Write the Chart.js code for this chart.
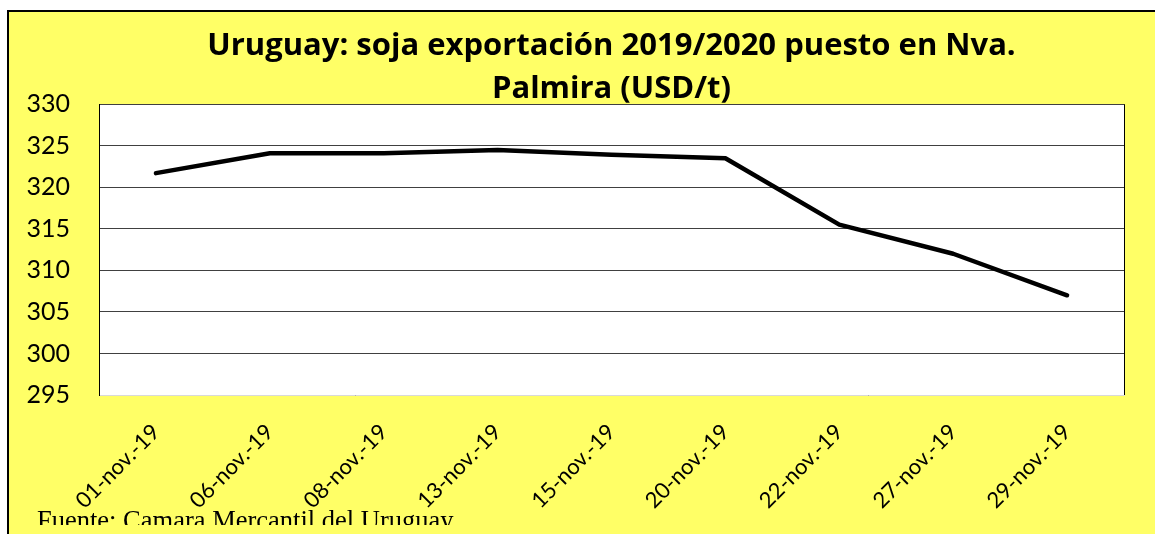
<!DOCTYPE html>
<html>
<head>
<meta charset="utf-8">
<script src="https://cdn.jsdelivr.net/npm/chart.js@4.4.1/dist/chart.umd.min.js"></script>
<style>
  html, body { margin: 0; padding: 0; background: #fff; }
  #wrap { width: 1155px; height: 534px; position: relative; }
</style>
</head>
<body>
<div id="wrap"><canvas id="sojaChart" width="1155" height="534"></canvas></div>
<script>
const fechas = ['01-nov.-19', '06-nov.-19', '08-nov.-19', '13-nov.-19', '15-nov.-19',
  '20-nov.-19', '22-nov.-19', '27-nov.-19', '29-nov.-19'];
const precios = [321.7, 324.1, 324.1, 324.5, 323.9, 323.5, 315.5, 312.0, 307.0];
const titulo = ['Uruguay: soja exportación 2019/2020 puesto en Nva.', 'Palmira (USD/t)'];
const fuente = 'Fuente: Camara Mercantil del Uruguay';

const YELLOW = '#FFFF66';

// fondo amarillo con marco, borde derecho del area y nota de fuente
const marco = {
  id: 'marco',
  beforeDraw(chart) {
    const c = chart.ctx;
    c.save();
    c.fillStyle = '#fff';
    c.fillRect(0, 0, chart.width, chart.height);
    c.fillStyle = YELLOW;
    c.fillRect(8, 11, chart.width - 8, chart.height - 11);
    c.strokeStyle = '#000';
    c.lineWidth = 2;
    c.beginPath();
    c.moveTo(8, chart.height);
    c.lineTo(8, 11);
    c.lineTo(chart.width, 11);
    c.stroke();
    const a = chart.chartArea;
    c.fillStyle = '#fff';
    c.fillRect(a.left, a.top, a.right - a.left, a.bottom - a.top);
    c.restore();
  },
  afterDraw(chart) {
    const c = chart.ctx;
    const a = chart.chartArea;
    c.save();
    c.strokeStyle = '#000';
    c.lineWidth = 1;
    c.beginPath();
    c.moveTo(a.right + 0.5, a.top);
    c.lineTo(a.right + 0.5, a.bottom);
    c.stroke();
    // texto recortado como en el original
    c.beginPath();
    c.rect(0, 0, chart.width, 525);
    c.clip();
    c.fillStyle = '#000';
    c.font = '26.5px "Liberation Serif", "Times New Roman", serif';
    c.textBaseline = 'alphabetic';
    c.fillText(fuente, 37, 529);
    c.restore();
  }
};

const ctx = document.getElementById('sojaChart').getContext('2d');

new Chart(ctx, {
  type: 'line',
  data: {
    labels: fechas,
    datasets: [{
      label: 'USD/t',
      data: precios,
      borderColor: '#000',
      borderWidth: 4.5,
      borderCapStyle: 'round',
      borderJoinStyle: 'round',
      pointRadius: 0,
      tension: 0,
      fill: false
    }]
  },
  options: {
    responsive: false,
    animation: false,
    layout: { padding: { left: 20, right: 31, top: 11, bottom: 0 } },
    scales: {
      x: {
        offset: true,
        grid: { display: false, drawTicks: false, offset: true },
        border: { display: true, color: '#d9d9d9', width: 1 },
        ticks: {
          color: '#000',
          font: { family: 'Lato', size: 22 },
          minRotation: 45,
          maxRotation: 45,
          autoSkip: false,
          padding: 24
        },
        afterFit(scale) { scale.height = 139; }
      },
      y: {
        min: 295,
        max: 330,
        grid: { color: '#404040', lineWidth: 1, drawTicks: false },
        border: { display: true, color: '#000', width: 1 },
        ticks: {
          stepSize: 5,
          color: '#000',
          font: { family: 'Lato', size: 25 },
          padding: 29
        },
        afterFit(scale) { scale.width = 79; }
      }
    },
    plugins: {
      legend: { display: false },
      tooltip: { enabled: false },
      title: {
        display: true,
        fullSize: false,
        text: titulo,
        color: '#000',
        font: { family: 'Open Sans', size: 31, weight: 'bold', lineHeight: 1.39 },
        padding: { top: 13.5, bottom: -6.5 }
      }
    }
  },
  plugins: [marco]
});
</script>
</body>
</html>
